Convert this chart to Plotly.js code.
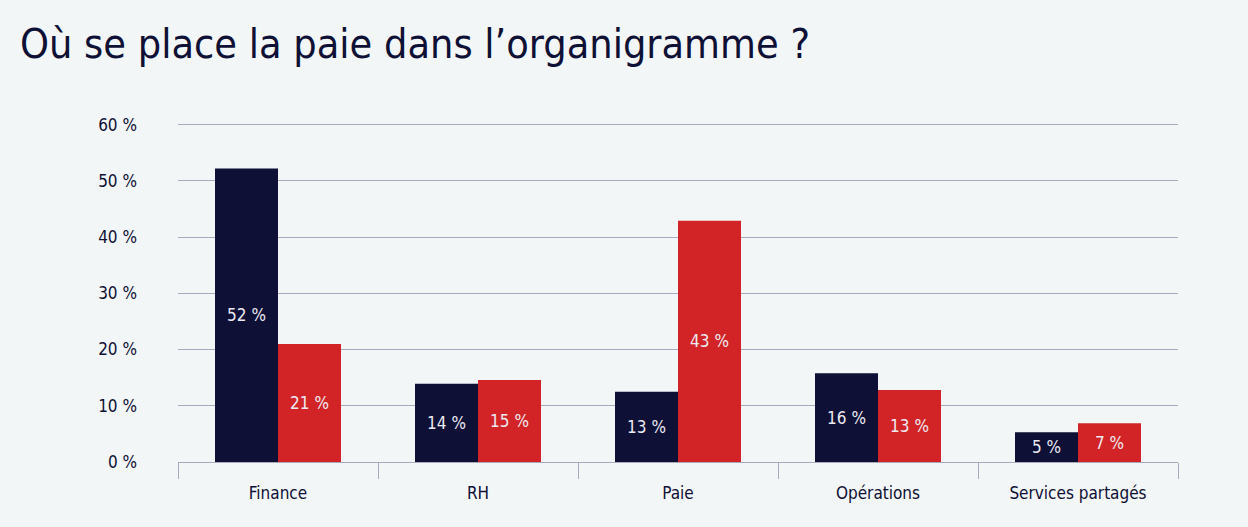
<!DOCTYPE html>
<html><head><meta charset="utf-8">
<script src="https://cdn.plot.ly/plotly-3.0.1.min.js"></script>
<style>html,body{margin:0;padding:0;background:#f3f6f7;}#chart{width:1248px;height:527px;}</style>
</head><body><div id="chart"></div>
<script>
const categories = ["Finance", "RH", "Paie", "Opérations", "Services partagés"];
const serieA = [52.2, 13.9, 12.5, 15.8, 5.3];
const serieB = [21.0, 14.6, 42.9, 12.8, 6.9];
const labelsA = ["52 %", "14 %", "13 %", "16 %", "5 %"];
const labelsB = ["21 %", "15 %", "43 %", "13 %", "7 %"];
const yTicks = [0, 10, 20, 30, 40, 50, 60];
const yTickText = ["0 %", "10 %", "20 %", "30 %", "40 %", "50 %", "60 %"];

const FONT = "'DejaVu Sans Condensed', 'Liberation Sans Narrow', 'Noto Sans', sans-serif";
const NAVY = "#0e1035";
const RED = "#d22426";
const GRID = "#a9a8bd";

const common = {type: "bar", x: categories, textposition: "inside", insidetextanchor: "middle",
  textfont: {family: FONT, size: 17, color: "#eceaf2"}, hoverinfo: "skip", cliponaxis: false};

const data = [
  Object.assign({}, common, {y: serieA, text: labelsA, marker: {color: NAVY}, name: "A"}),
  Object.assign({}, common, {y: serieB, text: labelsB, marker: {color: RED}, name: "B"})
];

const layout = {
  width: 1248, height: 527,
  paper_bgcolor: "#f3f6f7", plot_bgcolor: "#f3f6f7",
  margin: {l: 178, r: 70, t: 119, b: 65},
  showlegend: false,
  barmode: "group", bargap: 0.37, bargroupgap: 0,
  title: {text: "Où se place la paie dans l’organigramme ?", x: 20 / 1248, xref: "container", xanchor: "left",
    y: 1, yref: "container", yanchor: "top", pad: {t: 29},
    font: {family: FONT, size: 41, color: NAVY}},
  xaxis: {type: "category", showgrid: false, showline: true, linecolor: GRID, linewidth: 1,
    ticks: "outside", tickson: "boundaries", ticklen: 16, tickcolor: GRID, ticklabelstandoff: 16,
    tickfont: {family: FONT, size: 17, color: NAVY}, zeroline: false},
  yaxis: {range: [0, 61], tickvals: yTicks, ticktext: yTickText, showgrid: true, gridcolor: GRID,
    gridwidth: 1, zeroline: false, showline: false, ticks: "", ticklabelstandoff: 40,
    tickfont: {family: FONT, size: 17, color: NAVY}},
  font: {family: FONT, color: NAVY}
};

Plotly.newPlot("chart", data, layout, {staticPlot: true, displayModeBar: false});
</script></body></html>
